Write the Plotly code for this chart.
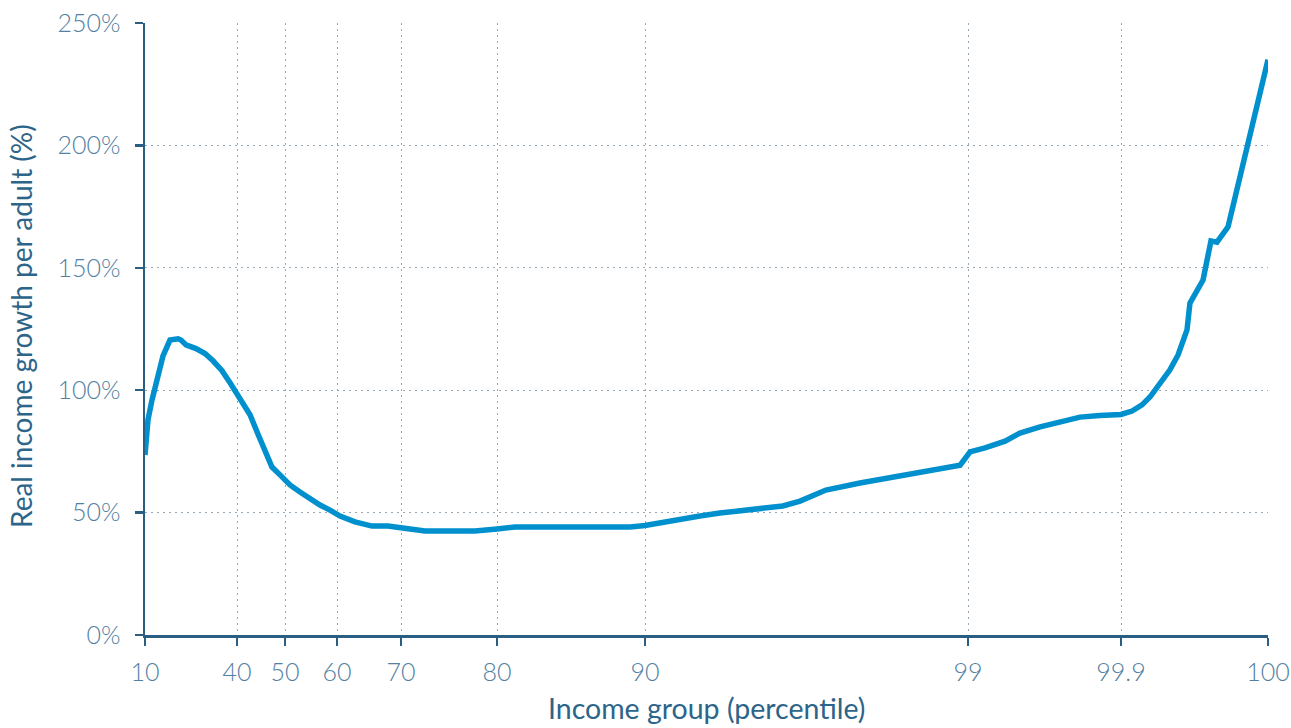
import numpy as np
import plotly.graph_objects as go

# Income percentile (upper bound of group) and real income growth per adult (%)
percentile = [10, 10.98, 12.28, 13.91, 15.87, 18.15, 20.76, 21.74, 23.37, 26.63,
              29.57, 32.17, 35.11, 37.72, 40.21, 41.25, 42.71, 44.38, 46.04, 47.29,
              48.96, 50.96, 52.88, 54.81, 56.73, 58.65, 60.47, 62.81, 65.47, 67.97,
              69.84, 70.94, 72.5, 75.1, 77.71, 80, 81.22, 82.91, 86.28, 87.64,
              88.99, 90, 90.70, 91.53, 92.09, 93.20, 93.84, 94.32, 95.04, 95.99,
              97.10, 98.22, 98.78, 99.012, 99.1, 99.218, 99.306, 99.424, 99.541, 99.659,
              99.776, 99.9, 99.9075, 99.9143, 99.9197, 99.9265, 99.9333, 99.9388, 99.9449, 99.9469,
              99.949, 99.9558, 99.9612, 99.9653, 99.9728, 100]
growth = [73.5, 88, 96, 104, 114, 120.5, 121, 120.5, 118.5, 117,
          115, 112, 108, 103, 98, 95, 90, 82, 73.5, 68.6,
          65.4, 61.3, 58.4, 55.6, 53.1, 51, 48.6, 46.2, 44.5, 44.5,
          44.1, 43.3, 42.5, 42.5, 42.5, 43.3, 44.1, 44.1, 44.1, 43.7,
          44.1, 44.7, 46.6, 48.6, 49.8, 51.5, 52.7, 54.7, 59.2, 62.1,
          65, 67.8, 69.4, 74.8, 76.4, 79.2, 82.5, 85, 87, 89,
          89.7, 90.1, 91.5, 94, 97.2, 102.5, 108.3, 114.4, 124.6, 135.6,
          137.7, 145, 161, 160.5, 166.7, 235]

tick_pct = [10, 40, 50, 60, 70, 80, 90, 99, 99.9, 100]
tick_labels = ["10", "40", "50", "60", "70", "80", "90", "99", "99.9", "100"]
# display scale: position of each labelled percentile along the (non-linear) axis
tick_pos = [0, 92, 140, 192, 256, 352, 500, 823, 976, 1123]

y_ticks = [0, 50, 100, 150, 200, 250]
y_labels = ["0%", "50%", "100%", "150%", "200%", "250%"]

x_title = "Income group (percentile)"
y_title = "Real income growth per adult (%)"

x_pos = np.interp(percentile, tick_pct, tick_pos)

AXIS = "#2a5e82"
TICK = "#527fa2"
GRID = "#95a8b8"
TITLE = "#2d6489"

fig = go.Figure()
fig.add_trace(go.Scatter(
    x=x_pos, y=growth, mode="lines",
    line=dict(color="#0090cd", width=5.5, shape="linear"),
    hoverinfo="skip", showlegend=False,
))

fig.update_layout(
    width=1291, height=728,
    margin=dict(l=145, r=23, t=23, b=93),
    paper_bgcolor="white", plot_bgcolor="white",
    font=dict(family="Lato", color=AXIS),
)
common = dict(
    showline=True, linecolor=AXIS, linewidth=2.5,
    ticks="outside", ticklen=8, tickwidth=2.5, tickcolor=AXIS,
    tickfont=dict(family="Lato", size=25, color=TICK, weight=300),
    showgrid=True, gridcolor=GRID, griddash="2px,4px", gridwidth=1,
    zeroline=False, automargin=False, ticklabeloverflow="allow",
)
fig.update_xaxes(
    range=[tick_pos[0], tick_pos[-1]],
    tickmode="array", tickvals=tick_pos, ticktext=tick_labels,
    ticklabelstandoff=5,
    **common,
)
fig.update_yaxes(
    range=[0, 250], tickmode="array", tickvals=y_ticks, ticktext=y_labels,
    ticklabelstandoff=9,
    **common,
)
fig.add_annotation(
    text=x_title, xref="paper", yref="paper", x=0.5, y=-(708 - 635) / 612,
    xanchor="center", yanchor="middle", showarrow=False,
    font=dict(family="Lato", size=28.5, color=TITLE),
)
fig.add_annotation(
    text=y_title, xref="paper", yref="paper", x=(21 - 145) / 1123, y=(635 - 326) / 612,
    xanchor="center", yanchor="middle", showarrow=False, textangle=-90,
    font=dict(family="Lato", size=28, color=TITLE),
)

fig.write_html(
    "out.html",
    config={"displayModeBar": False, "staticPlot": True},
    post_script="document.body.style.margin='0';document.body.style.overflow='hidden';",
)
